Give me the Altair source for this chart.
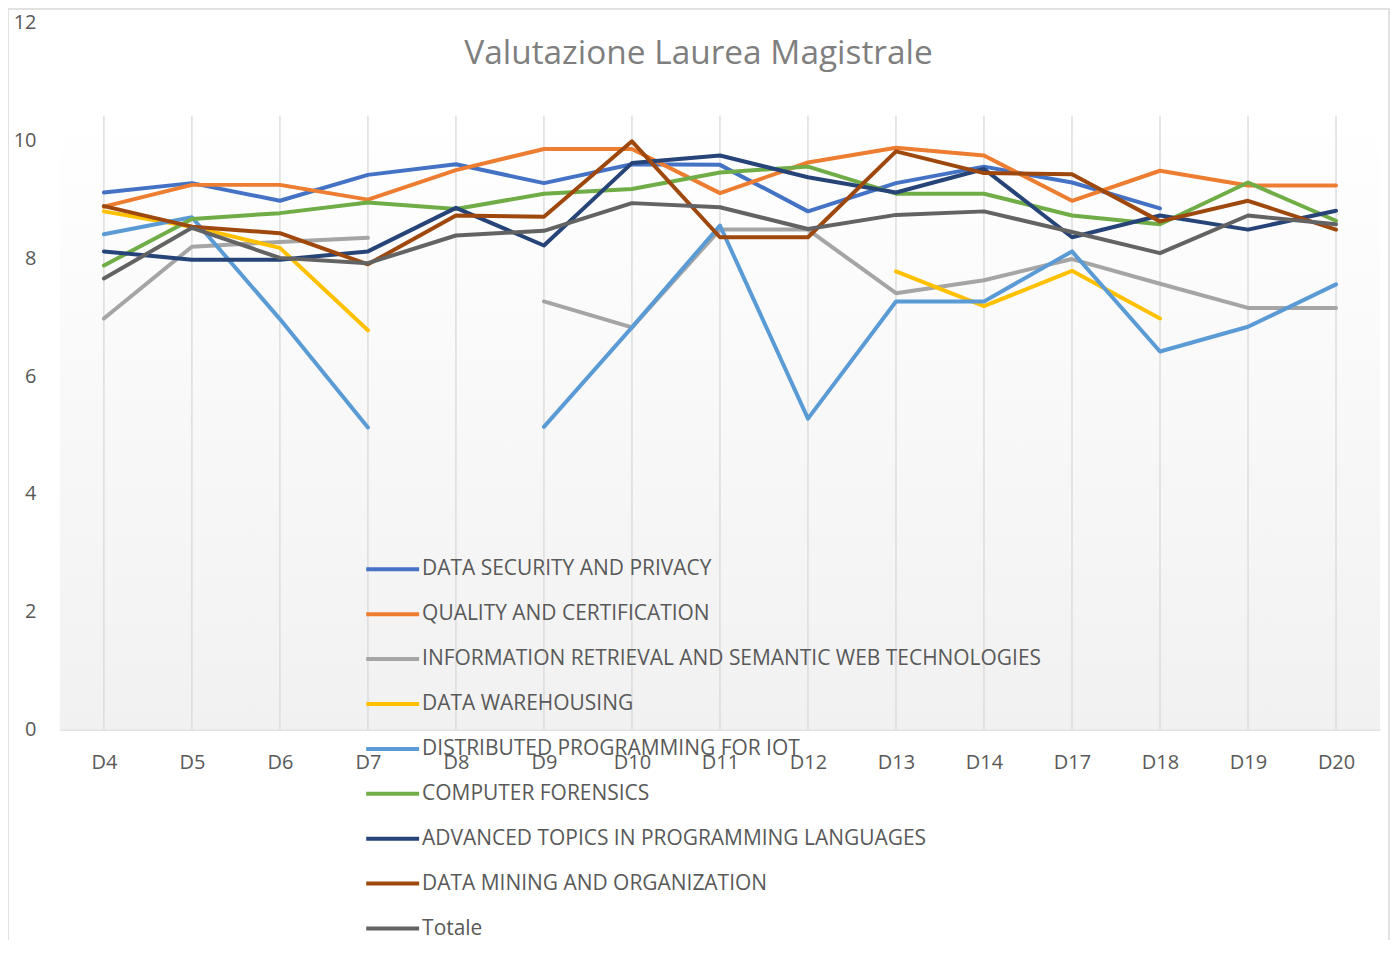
import altair as alt
import pandas as pd

cats = ["D4", "D5", "D6", "D7", "D8", "D9", "D10", "D11", "D12", "D13", "D14", "D17", "D18", "D19", "D20"]
N = None
data_security = [9.12, 9.28, 8.98, 9.42, 9.60, 9.28, 9.60, 9.59, 8.80, 9.28, 9.56, 9.29, 8.85, N, N]
quality = [8.88, 9.25, 9.25, 9.00, 9.50, 9.86, 9.86, 9.11, 9.63, 9.88, 9.75, 8.98, 9.49, 9.24, 9.24]
info_retrieval = [6.98, 8.20, 8.28, 8.35, N, 7.27, 6.83, 8.49, 8.49, 7.41, 7.63, 7.99, 7.57, 7.16, 7.16]
data_warehousing = [8.80, 8.54, 8.18, 6.78, N, N, N, N, N, 7.78, 7.19, 7.79, 6.98, N, N]
distributed_iot = [8.41, 8.70, 6.97, 5.13, N, 5.14, 6.83, 8.56, 5.28, 7.27, 7.27, 8.12, 6.42, 6.84, 7.56]
forensics = [7.88, 8.67, 8.77, 8.95, 8.84, 9.10, 9.18, 9.46, 9.56, 9.10, 9.10, 8.73, 8.58, 9.29, 8.64]
advanced = [8.12, 7.98, 7.98, 8.12, 8.86, 8.22, 9.62, 9.75, 9.38, 9.12, 9.52, 8.36, 8.73, 8.49, 8.81]
data_mining = [8.89, 8.54, 8.43, 7.90, 8.73, 8.71, 9.99, 8.36, 8.36, 9.82, 9.45, 9.43, 8.63, 8.98, 8.49]
totale = [7.66, 8.52, 8.01, 7.92, 8.39, 8.47, 8.94, 8.87, 8.50, 8.74, 8.80, 8.45, 8.09, 8.73, 8.58]

series_names = [
    "DATA SECURITY AND PRIVACY",
    "QUALITY AND CERTIFICATION",
    "INFORMATION RETRIEVAL AND SEMANTIC WEB TECHNOLOGIES",
    "DATA WAREHOUSING",
    "DISTRIBUTED PROGRAMMING FOR IOT",
    "COMPUTER FORENSICS",
    "ADVANCED TOPICS IN PROGRAMMING LANGUAGES",
    "DATA MINING AND ORGANIZATION",
    "Totale",
]
series_values = [data_security, quality, info_retrieval, data_warehousing, distributed_iot,
                 forensics, advanced, data_mining, totale]
colors = ["#4472C4", "#ED7D31", "#A5A5A5", "#FFC000", "#5B9BD5", "#70AD47", "#264478", "#9E480E", "#636363"]
title_text = "Valutazione Laurea Magistrale"

rows = []
for i, (name, vals) in enumerate(zip(series_names, series_values)):
    for c, v in zip(cats, vals):
        rows.append({"cat": c, "val": v, "serie": name, "k": i})
df = pd.DataFrame(rows)
df_cats = pd.DataFrame({"cat": cats})
one = pd.DataFrame({"a": [0]})

W, H = 1323, 708
FONT = "Open Sans"
xscale = alt.Scale(type="point", domain=cats, padding=0.5)

bg = alt.Chart(one).mark_rect(
    color=alt.Gradient(
        gradient="linear",
        stops=[alt.GradientStop(color="#ffffff", offset=0), alt.GradientStop(color="#f1f1f1", offset=1)],
        x1=0, x2=0, y1=0, y2=1,
    )
).encode(x=alt.value(0), x2=alt.value(W), y=alt.value(93), y2=alt.value(H))

grid = alt.Chart(df_cats).mark_rule(color="#d9d9d9", strokeWidth=1.3).encode(
    x=alt.X("cat:N", scale=xscale,
            axis=alt.Axis(title=None, labelFontSize=20, labelColor="#595959", labelFont=FONT,
                          labelPadding=23, ticks=False, domainColor="#d9d9d9", domainWidth=1.5,
                          grid=False, labelAngle=0)),
    y=alt.value(93), y2=alt.value(H),
)

lines = alt.Chart(df).mark_line(strokeWidth=4, strokeCap="round", strokeJoin="round").encode(
    x=alt.X("cat:N", scale=xscale),
    y=alt.Y("val:Q", scale=alt.Scale(domain=[0, 12], nice=False),
            axis=alt.Axis(title=None, values=[0, 2, 4, 6, 8, 10, 12], labelFontSize=20,
                          labelColor="#595959", labelFont=FONT, labelPadding=24, ticks=False,
                          domain=False, grid=False)),
    color=alt.Color("serie:N", scale=alt.Scale(domain=series_names, range=colors),
                    legend=alt.Legend(title=None, orient="none", legendX=305, legendY=519,
                                      symbolType="stroke", symbolSize=2809, symbolStrokeWidth=4,
                                      labelFontSize=21, labelFont=FONT, labelColor="#595959",
                                      labelOffset=1, rowPadding=6, labelLimit=900)),
    order="k:Q",
)

title = alt.Chart(one).mark_text(fontSize=33.5, font=FONT, color="#7f7f7f", align="center",
                                 baseline="alphabetic").encode(
    x=alt.value(640), y=alt.value(41), text=alt.value(title_text))

border = alt.Chart(one).mark_rect(fill="transparent", stroke="#d9d9d9", strokeWidth=1.5).encode(
    x=alt.value(-52), x2=alt.value(1332), y=alt.value(-14), y2=alt.value(960))

chart = alt.layer(bg, grid, lines, title, border).properties(
    width=W, height=H,
    background="white",
    autosize=alt.AutoSizeParams(type="none"),
    padding={"left": 52, "top": 14, "right": 10, "bottom": 210},
).configure_view(strokeWidth=0, stroke="transparent")

chart.save("out.html", embed_options={"renderer": "svg", "actions": False})
